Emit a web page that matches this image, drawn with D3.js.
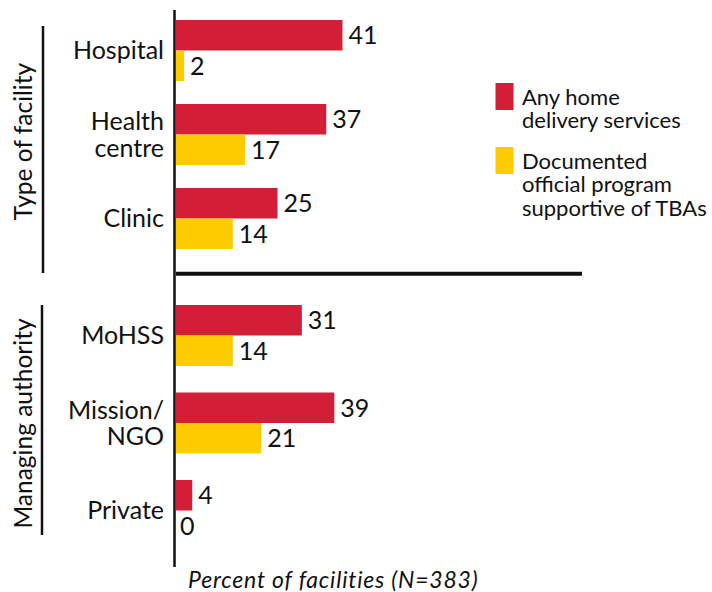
<!DOCTYPE html>
<head>
  <meta charset="utf-8">
  <script src="https://d3js.org/d3.v7.min.js"></script>
  <style>
    body { margin:0; background:#fff; }
    svg { display:block; }
    text { font-family: Lato, "Noto Sans", sans-serif; fill:#111; }
  </style>
</head>

<body>
  <svg width="712" height="592"></svg>
  <script>
    // data
    var groups = ['Type of facility', 'Managing authority'];
    var categories = ['Hospital', 'Health|centre', 'Clinic', 'MoHSS', 'Mission/|NGO', 'Private'];
    var groupOf = [0, 0, 0, 1, 1, 1];
    var homeDelivery = [41, 37, 25, 31, 39, 4];
    var tbaProgram = [2, 17, 14, 14, 21, 0];
    var seriesNames = ['Any home|delivery services', 'Documented|official program|supportive of TBAs'];
    var colors = ['#d21f37', '#ffcc00'];
    var xTitle = 'Percent of facilities (N=383)';

    var svg = d3.select('svg');

    var x = d3.scaleLinear()
      .domain([0, 100])
      .range([176, 582]);

    // one band scale per group of categories
    var yGroup = [
      d3.scaleBand().domain(categories.slice(0, 3)).range([20, 249]).paddingInner(0.274).paddingOuter(0),
      d3.scaleBand().domain(categories.slice(3)).range([305, 541]).paddingInner(0.303).paddingOuter(0)
    ];
    var ySeries = d3.scaleBand().domain([0, 1]).range([0, yGroup[0].bandwidth()]);

    var rows = categories.map((c, i) => ({
      cat: c, group: groupOf[i], values: [homeDelivery[i], tbaProgram[i]]
    }));

    var rowG = svg.selectAll('g.row')
      .data(rows)
      .enter().append('g')
      .attr('class', 'row')
      .attr('transform', d => 'translate(0,' + yGroup[d.group](d.cat) + ')');

    rowG.selectAll('rect')
      .data(d => d.values)
      .enter().append('rect')
      .attr('x', x(0))
      .attr('y', (v, j) => ySeries(j))
      .attr('width', v => x(v) - x(0))
      .attr('height', ySeries.bandwidth())
      .attr('fill', (v, j) => colors[j]);

    rowG.selectAll('text.val')
      .data(d => d.values)
      .enter().append('text')
      .attr('class', 'val')
      .attr('x', v => x(v) + (v > 0 ? 6 : 4))
      .attr('y', (v, j) => ySeries(j) + ySeries.bandwidth() / 2)
      .attr('dy', '0.36em')
      .style('font-size', '25px')
      .text(v => v);

    // category labels, right aligned, centred on the pair of bars
    rowG.each(function(d) {
      var lines = d.cat.split('|');
      var lh = 26.5;
      var mid = ySeries.range()[1] / 2;
      var t = d3.select(this).append('text')
        .attr('text-anchor', 'end')
        .style('font-size', '25px');
      lines.forEach((l, k) => {
        t.append('tspan')
          .attr('x', 164)
          .attr('y', mid + (k - (lines.length - 1) / 2) * lh)
          .attr('dy', '0.36em')
          .text(l);
      });
    });

    // vertical axis line
    svg.append('line')
      .attr('x1', 174.5).attr('x2', 174.5)
      .attr('y1', 10).attr('y2', 567)
      .attr('stroke', '#111').attr('stroke-width', 2.5);

    // separator between the two groups
    svg.append('line')
      .attr('x1', x(0)).attr('x2', x(100))
      .attr('y1', 273.7).attr('y2', 273.7)
      .attr('stroke', '#111').attr('stroke-width', 4);

    // group brackets and rotated labels
    var brackets = [[43, 26, 273], [42, 305, 535]];
    groups.forEach((g, i) => {
      var b = brackets[i];
      svg.append('line')
        .attr('x1', b[0]).attr('x2', b[0])
        .attr('y1', b[1]).attr('y2', b[2])
        .attr('stroke', '#111').attr('stroke-width', 2.5);
      svg.append('text')
        .attr('transform', 'translate(32,' + (i == 0 ? 141.5 : 423.5) + ') rotate(-90)')
        .attr('text-anchor', 'middle')
        .style('font-size', '24.5px')
        .text(g);
    });

    // legend
    var legendTop = [83, 147];
    seriesNames.forEach((s, i) => {
      svg.append('rect')
        .attr('x', 495.5).attr('y', legendTop[i])
        .attr('width', 18).attr('height', 27)
        .attr('fill', colors[i]);
      var t = svg.append('text').style('font-size', '22px');
      s.split('|').forEach((l, k) => {
        t.append('tspan')
          .attr('x', 522)
          .attr('y', legendTop[i] + 22 + k * 23.3)
          .text(l);
      });
    });

    // axis title
    svg.append('text')
      .attr('x', 188).attr('y', 588)
      .style('font-size', '23px')
      .style('font-style', 'italic')
      .style('letter-spacing', '0.8px')
      .text(xTitle);
  </script>
</body>
